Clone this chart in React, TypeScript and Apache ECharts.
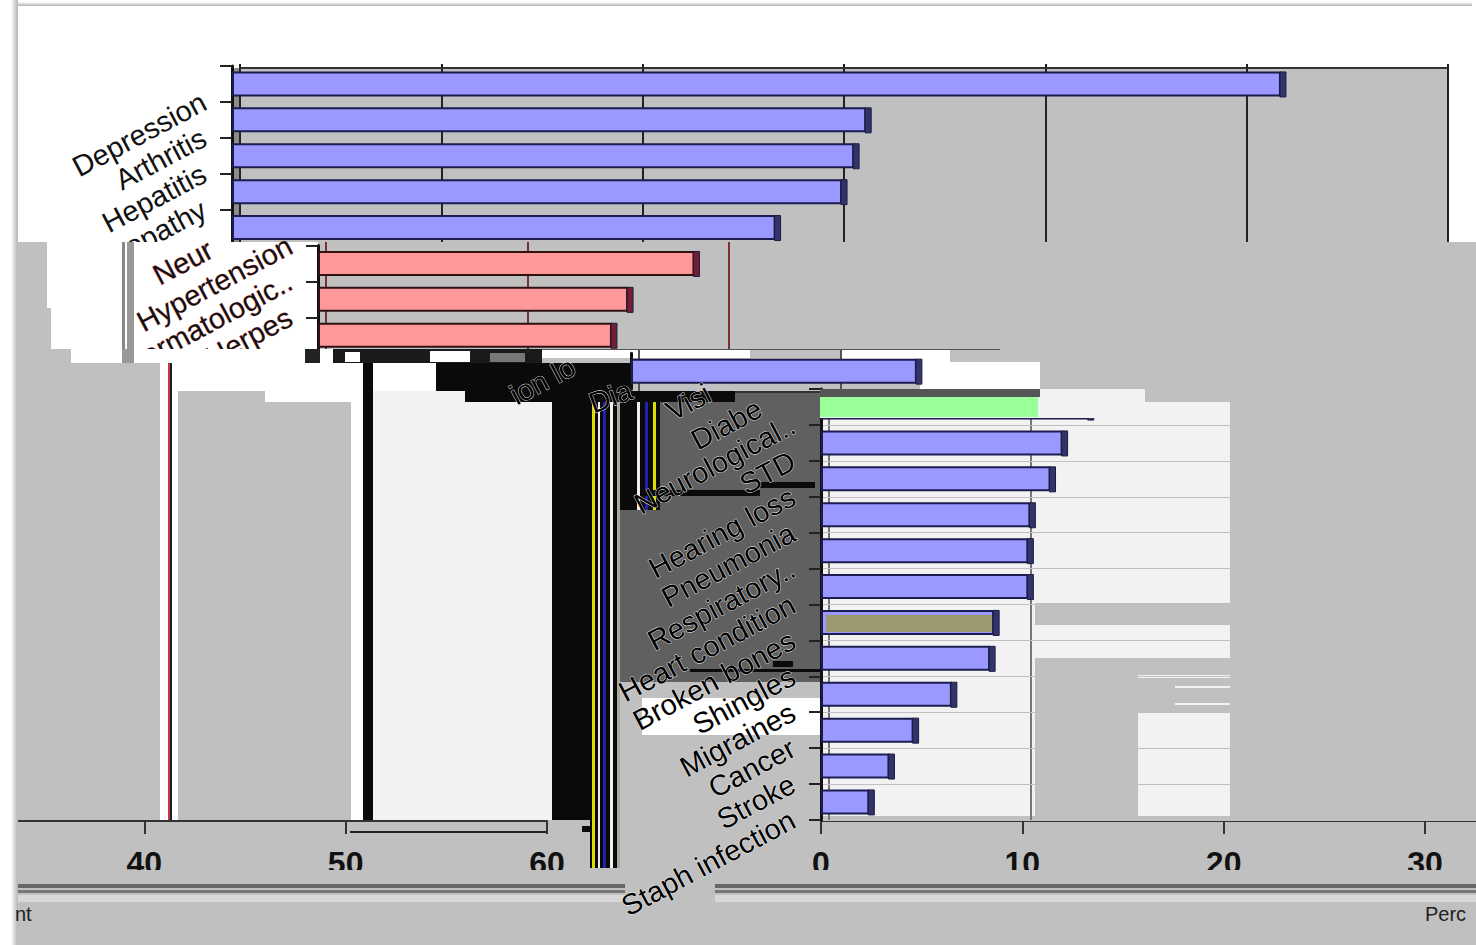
import React, { useEffect, useRef } from "react";
import * as echarts from "echarts";

const categories = ["Depression","Arthritis","Hepatitis","Neuropathy","Hypertension","Dermatologic..","Herpes","Vision loss","Diabetes","Neurological..","STD","Hearing loss","Pneumonia","Respiratory..","Heart condition","Broken bones","Shingles","Migraines","Cancer","Stroke","Staph infection"];
const percents = [52.1,31.5,30.9,30.3,27.0,18.7,15.4,14.6,14.2,13.3,12.0,11.4,10.4,10.3,10.3,8.6,8.4,6.5,4.6,3.4,2.4];
const rightTicks = [0,10,20,30];
const leftTicks = [40,50,60];

const BLUE = "#9999ff", PINK = "#ff9999";
const G = "#c0c0c0", L = "#f2f2f2", W = "#ffffff", K = "#0a0a0a", D = "#606060";
const PITCH = 35.9, TOP = 66, PX = 1208, OX = 1000;

type R = [number, number, number, number, string];
// background pieces of each displaced band: x0, y0, x1, y1, colour
const band1: R[] = [[0,0,1476,242,W],[232,68,1447,242,G],[232,68,240,242,"#8c8c8c"]];
const band2: R[] = [[0,242,1476,349,G],[47,242,318,308,W],[51,308,318,349,W],[122,242,125,349,"#888"],[127,242,134,349,"#999"]];
const band3: R[] = [
  [0,349,1476,402,G],[71,349,333,363,W],[122,349,134,363,"#999"],[305,349,320,363,"#222"],
  [333,349,542,363,"#1a1a1a"],[345,352,360,362,W],[430,351,470,362,W],[490,353,525,362,"#777"],
  [542,349,750,358,W],[542,349,1000,350,"#555"],[750,350,840,358,G],[840,350,950,362,W],[920,362,1040,392,W],
  [178,363,363,391,W],[363,363,373,402,K],[373,363,436,391,W],[436,363,631,391,K],
  [160,363,178,402,W],[168,363,170,402,"#c33"],[170,363,172,402,"#123"],
  [178,391,265,402,G],[265,391,363,402,W],[373,391,465,402,L],[465,391,625,402,K],[625,391,735,402,K],
  [735,391,820,402,D],[1040,392,1145,402,L],[735,391,1000,393,"#333"],
];
const band4: R[] = [
  [0,402,1476,820,G],[160,402,178,820,W],[168,402,170,820,"#c33"],[170,402,172,820,"#123"],
  [351,402,363,820,W],[363,402,373,820,K],[373,402,552,820,L],[552,402,590,820,K],
  [590,402,620,868,K],[592,402,595,868,"#dd0"],[598,402,600,868,"#eee"],[603,402,606,868,"#22a"],[610,402,613,868,"#eee"],[617,402,620,868,"#aa9"],
  [620,402,660,510,K],[637,402,640,510,"#eee"],[645,402,648,510,"#22a"],[653,402,656,510,"#dd0"],
  [660,402,820,510,D],[620,510,820,682,D],[620,682,820,820,G],[642,698,820,735,W],
  [773,661,793,667,K],[690,669,820,672,K],[760,482,815,488,K],[640,490,760,496,K],
  [820,402,1230,658,L],[820,658,1035,816,L],[1035,603,1230,625,G],[1035,658,1138,816,G],[1138,658,1230,712,G],[1138,675,1230,678,L],[1175,686,1230,688,L],[1175,703,1230,705,L],[1138,712,1230,816,L],
];
const band5: R[] = [
  [0,820,1476,945,G],[18,884,625,888,"#666"],[18,890,625,893,"#777"],[18,895,625,902,"#d8d8d8"],
  [715,884,1476,888,"#666"],[715,890,1476,893,"#777"],[715,895,1476,902,"#d8d8d8"],
  [350,831,546,833,"#222"],[582,826,590,832,K],
];
// fragments that the displaced bands leave of the axis labels
const fragments: [string, number, number, number, string, string][] = [
  ["Neur", 155, 277, 28, "#111", "#ff9090"],
  ["ion lo", 512, 397, 28, "#000", "#fff"],
  ["Dia", 590, 404, 20, "#000", "#fff"],
  ["Visi", 668, 413, 28, "#000", "#fff"],
  ["Diabe", 693, 442, 28, "#000", "#fff"],
];

const chartOption = () => {
  const grid: any[] = [], xAxis: any[] = [], yAxis: any[] = [], series: any[] = [];
  const addGrid = (left: number, top: number, width: number, height: number) => { grid.push({ left: left + OX, top, width, height, containLabel: false }); return grid.length - 1; };
  const slice = (o: any) => {
    const rows = categories.slice(o.from, o.to + 1);
    const vals = percents.slice(o.from, o.to + 1);
    // back wall with its gridlines, shifted by the 3-D depth
    let g = addGrid(o.left + 8, o.wallTop, (o.wallMax / 60) * PX, o.wallBottom - o.wallTop);
    xAxis.push({ gridIndex: g, type: "value", min: 0, max: o.wallMax, interval: 10, position: "top", z: o.z + 1,
      axisLine: { show: !!o.wallTopLine, onZero: false, lineStyle: { color: "#333", width: 2 } }, axisLabel: { show: false },
      axisTick: { show: !!o.wallTopLine, inside: false, length: 4, lineStyle: { color: "#222", width: 2 } },
      splitLine: { show: true, lineStyle: { color: o.wallColor, width: 2 } } });
    yAxis.push({ gridIndex: g, type: "category", data: [""], show: false, z: o.z + 1 });
    // bars
    g = addGrid(o.left, TOP + PITCH * o.from, PX, PITCH * rows.length);
    const xi = xAxis.length;
    xAxis.push({ gridIndex: g, type: "value", min: 0, max: 60, interval: 10, show: false, z: o.z + 2 });
    yAxis.push({ gridIndex: g, type: "category", data: rows, inverse: true, z: o.z + 2,
      axisLine: { show: true, lineStyle: { color: "#111", width: 3 } },
      axisTick: { show: o.ticks !== false, length: 12, lineStyle: { color: "#222", width: 2 } }, axisLabel: { show: false },
      splitLine: { show: !!o.rowLines, lineStyle: { color: G, width: 1 } } });
    series.push({ type: "bar", name: o.name, xAxisIndex: xi, yAxisIndex: xi, data: vals, barWidth: 25, z: o.z + 3,
      itemStyle: { color: o.color, borderColor: o.border, borderWidth: 2 } });
    series.push({ type: "custom", name: o.name + " depth", xAxisIndex: xi, yAxisIndex: xi, z: o.z + 4, encode: { x: 0, y: 1 },
      data: vals.map((v: number, i: number) => [v, i]),
      renderItem: (_: any, api: any) => {
        const p = api.coord([api.value(0), api.value(1)]);
        return { type: "rect", shape: { x: p[0] - 1, y: p[1] - 12, width: 6, height: 25 }, style: { fill: o.side, stroke: "#1c1c40", lineWidth: 1 } };
      } });
    // labels, hanging slightly below their rows
    if (o.labelFrom != null) {
      const labs = categories.slice(o.labelFrom, o.labelTo + 1);
      g = addGrid(o.left, TOP + PITCH * o.labelFrom + 16, PX, PITCH * labs.length);
      xAxis.push({ gridIndex: g, type: "value", min: 0, max: 60, show: false, z: o.z + 5 });
      yAxis.push({ gridIndex: g, type: "category", data: labs, inverse: true, z: o.z + 5,
        axisLine: { show: false }, axisTick: { show: false },
        axisLabel: { show: true, interval: 0, rotate: 28, margin: 28, fontFamily: "Liberation Sans", fontSize: 29, color: o.labelColor,
          textBorderColor: o.halo || "transparent", textBorderWidth: o.halo ? o.haloW : 0 } });
    }
  };
  slice({ name: "Top", from: 0, to: 4, left: 232, z: 0, color: BLUE, border: "#1c1c50", side: "#33336b", labelFrom: 0, labelTo: 3, labelColor: "#111",
    wallTop: 68, wallBottom: 242, wallMax: 60, wallColor: "#222", wallTopLine: true });
  slice({ name: "Second", from: 5, to: 7, left: 318, z: 20, color: PINK, border: "#301010", side: "#702030", labelFrom: 4, labelTo: 6, labelColor: "#111", halo: "#ff9090", haloW: 0.6,
    wallTop: 242, wallBottom: 349, wallMax: 20, wallColor: "#7a3030" });
  slice({ name: "Third", from: 8, to: 8, left: 631, z: 40, color: BLUE, border: "#1c1c50", side: "#33336b", ticks: false,
    wallTop: 349, wallBottom: 391, wallMax: 10, wallColor: "#555" });
  slice({ name: "Fourth", from: 9, to: 20, left: 821, z: 60, color: BLUE, border: "#1c1c50", side: "#33336b", labelFrom: 9, labelTo: 20, labelColor: "#000", halo: "#ffffff", haloW: 0.8, rowLines: true,
    wallTop: 402, wallBottom: 820, wallMax: 10, wallColor: "#777" });
  // the value axis, wrapped round the page edge
  const axisAt = (left: number, shown: number[]) => {
    const g = addGrid(left, 761, PX, 60);
    xAxis.push({ gridIndex: g, type: "value", min: 0, max: 60, interval: 10, z: 55, axisLine: { show: true, onZero: false, lineStyle: { color: "#333", width: 2 } },
      axisTick: { show: true, length: 13, lineStyle: { color: "#333", width: 2 } }, splitLine: { show: false },
      axisLabel: { show: true, margin: 26, fontFamily: "Liberation Sans", fontWeight: "bold", fontSize: 32, color: "#111", formatter: (v: number) => (shown.includes(v) ? String(v) : "") } });
    yAxis.push({ gridIndex: g, type: "category", data: [""], show: false });
  };
  axisAt(821, rightTicks);
  axisAt(-661, leftTicks);

  const rects = (list: R[], z: number) => list.map(([x0, y0, x1, y1, fill]) => ({ type: "rect", z, silent: true, shape: { x: x0 + OX, y: y0, width: x1 - x0, height: y1 - y0 }, style: { fill } }));
  const elements: any[] = [
    ...rects(band1, -5),
    ...rects(band2, 19),
    ...rects(band3, 39),
    ...rects(band4, 59),
    ...rects(band5, 54),
    ...rects([[0, 870, 1476, 884, G]], 56),
    // top cover of the fourth band's first bar, and its green patch
    ...rects([[820, 389, 1145, 418, L], [820, 389, 1040, 397, "#555"], [820, 397, 1038, 417, "#99ff99"], [826, 615, 992, 632, "#9c9a6e"]], 78),
    ...rects([[0, 0, 6, 945, W]], 90),
    { type: "rect", z: 90, shape: { x: OX + 6, y: 0, width: 12, height: 945 }, style: { fill: new echarts.graphic.LinearGradient(0, 0, 1, 0, [{ offset: 0, color: "#ffffff" }, { offset: 0.4, color: "#ffffff" }, { offset: 1, color: "#b4b4b4" }]) } },
    { type: "rect", z: 90, shape: { x: OX + 18, y: 2, width: 1454, height: 4 }, style: { fill: new echarts.graphic.LinearGradient(0, 0, 0, 1, [{ offset: 0, color: "#ffffff" }, { offset: 1, color: "#b0b0b0" }]) } },
    { type: "text", z: 90, x: OX + 1425, y: 914, style: { text: "Perc", font: "20px 'Liberation Sans'", fill: "#222", textVerticalAlign: "middle", textAlign: "left" } },
    { type: "text", z: 90, x: OX + 15, y: 914, style: { text: "nt", font: "20px 'Liberation Sans'", fill: "#222", textVerticalAlign: "middle", textAlign: "left" } },
    ...fragments.map(([text, x, y, deg, fill, stroke], i) => ({ type: "text", z: i === 0 ? 30 : 79, x: x + OX, y, rotation: (deg * Math.PI) / 180,
      style: { text, font: "29px 'Liberation Sans'", fill, stroke, lineWidth: 0.8, textAlign: "left", textVerticalAlign: "middle" } })),
  ];
  return { animation: false, backgroundColor: "#ffffff", grid, xAxis, yAxis, series, graphic: { elements } };
};

export default function App() {
  const ref = useRef<HTMLDivElement>(null);
  useEffect(() => {
    const chart = echarts.init(ref.current!, undefined, { renderer: "svg" });
    chart.setOption(chartOption());
    return () => chart.dispose();
  }, []);
  return (
    <div style={{ position: "absolute", left: 0, top: 0, width: 1476, height: 945, overflow: "hidden" }}>
      <div ref={ref} style={{ position: "absolute", left: -OX, top: 0, width: OX + 1476 + 600, height: 945 }} />
    </div>
  );
}
